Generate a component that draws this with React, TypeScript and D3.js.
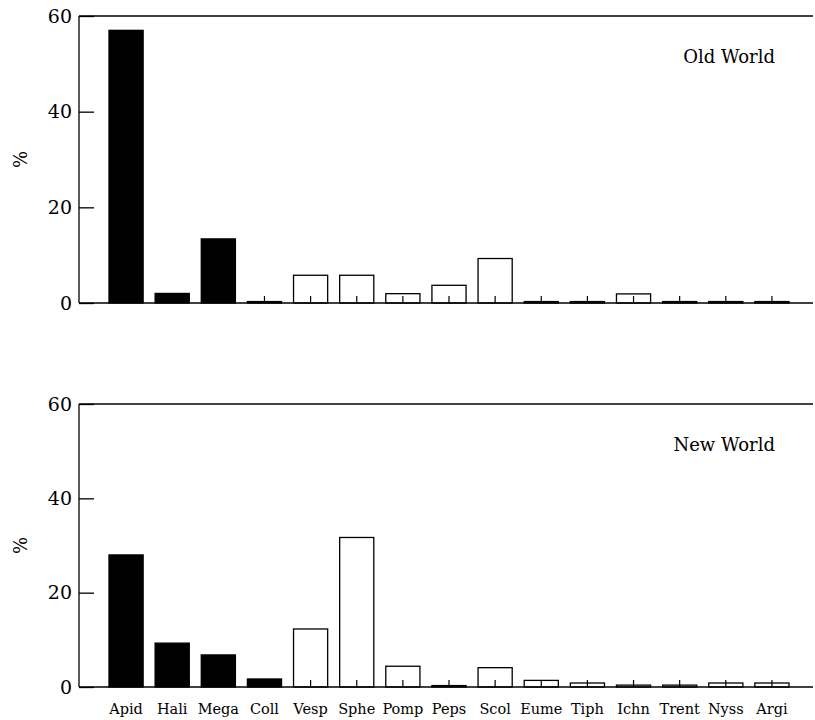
import React, { useRef, useEffect } from 'react';
import * as d3 from 'd3';

const categories = ['Apid', 'Hali', 'Mega', 'Coll', 'Vesp', 'Sphe', 'Pomp', 'Peps', 'Scol', 'Eume', 'Tiph', 'Ichn', 'Trent', 'Nyss', 'Argi'];
const bees = ['Apid', 'Hali', 'Mega', 'Coll'];
const oldWorld = [57.0, 2.0, 13.4, 0.3, 5.8, 5.8, 1.95, 3.7, 9.3, 0.3, 0.3, 1.9, 0.3, 0.3, 0.3];
const newWorld = [28.0, 9.3, 6.8, 1.7, 12.3, 31.7, 4.4, 0.3, 4.1, 1.4, 0.85, 0.4, 0.4, 0.85, 0.85];
const yTicks = [0, 20, 40, 60];

const FONT = '"DejaVu Serif", serif';

const App = () => {
  const svgRef = useRef<SVGSVGElement>(null);

  useEffect(() => {
    const svg = d3.select(svgRef.current);
    svg.selectAll('*').remove();

    const x = d3.scaleBand<string>()
      .domain(categories)
      .range([103, 795])
      .paddingInner(0.26)
      .paddingOuter(0.13);

    const panels = [
      { values: oldWorld, title: 'Old World', top: 16, bottom: 303 },
      { values: newWorld, title: 'New World', top: 404, bottom: 687 },
    ];

    panels.forEach(p => {
      const y = d3.scaleLinear().domain([0, 60]).range([p.bottom, p.top]);
      const g = svg.append('g');

      // bars
      g.selectAll('rect')
        .data(p.values)
        .enter().append('rect')
        .attr('x', (d, i) => x(categories[i])!)
        .attr('y', d => y(d))
        .attr('width', x.bandwidth())
        .attr('height', d => y(0) - y(d))
        .attr('fill', (d, i) => bees.includes(categories[i]) ? '#000' : '#fff')
        .attr('stroke', '#000')
        .attr('stroke-width', 1.3);

      // category ticks
      g.selectAll('line.ct')
        .data(categories)
        .enter().append('line')
        .attr('class', 'ct')
        .attr('x1', d => x(d)! + x.bandwidth() / 2)
        .attr('x2', d => x(d)! + x.bandwidth() / 2)
        .attr('y1', y(0))
        .attr('y2', y(0) - 7)
        .attr('stroke', '#000')
        .attr('stroke-width', 1.2);

      // frame lines: left, top, bottom
      g.append('line').attr('x1', 79).attr('x2', 79).attr('y1', y(0)).attr('y2', y(60)).attr('stroke', '#000').attr('stroke-width', 1.3);
      g.append('line').attr('x1', 79).attr('x2', 813).attr('y1', y(60)).attr('y2', y(60)).attr('stroke', '#000').attr('stroke-width', 1.3);
      g.append('line').attr('x1', 79).attr('x2', 813).attr('y1', y(0)).attr('y2', y(0)).attr('stroke', '#000').attr('stroke-width', 1.3);

      // y axis
      const axis = g.append('g')
        .attr('transform', 'translate(79,0)')
        .call(d3.axisRight(y).tickValues(yTicks).tickSize(15).tickFormat(d3.format('d')));
      axis.select('.domain').remove();
      axis.selectAll('line').attr('stroke', '#000').attr('stroke-width', 1.3);
      axis.selectAll('text')
        .attr('x', -7)
        .attr('text-anchor', 'end')
        .attr('font-family', FONT)
        .attr('font-size', 19)
        .attr('fill', '#000');

      // y label
      g.append('text')
        .attr('transform', `translate(27,${(p.top + p.bottom) / 2}) rotate(-90)`)
        .attr('text-anchor', 'middle')
        .attr('font-family', FONT)
        .attr('font-size', 18)
        .text('%');

      g.append('text')
        .attr('x', 775)
        .attr('y', p.top + 47)
        .attr('text-anchor', 'end')
        .attr('font-family', FONT)
        .attr('font-size', 18)
        .text(p.title);

      if (p.bottom > 600) {
        g.selectAll('text.cat')
          .data(categories)
          .enter().append('text')
          .attr('class', 'cat')
          .attr('x', d => x(d)! + x.bandwidth() / 2)
          .attr('y', 714)
          .attr('text-anchor', 'middle')
          .attr('font-family', FONT)
          .attr('font-size', 14.5)
          .text(d => d);
      }
    });
  }, []);

  return (
    <svg ref={svgRef} width="815" height="720" style={{ position: 'absolute', left: 0, top: 0, background: '#fff' }} />
  );
};

export default App;
